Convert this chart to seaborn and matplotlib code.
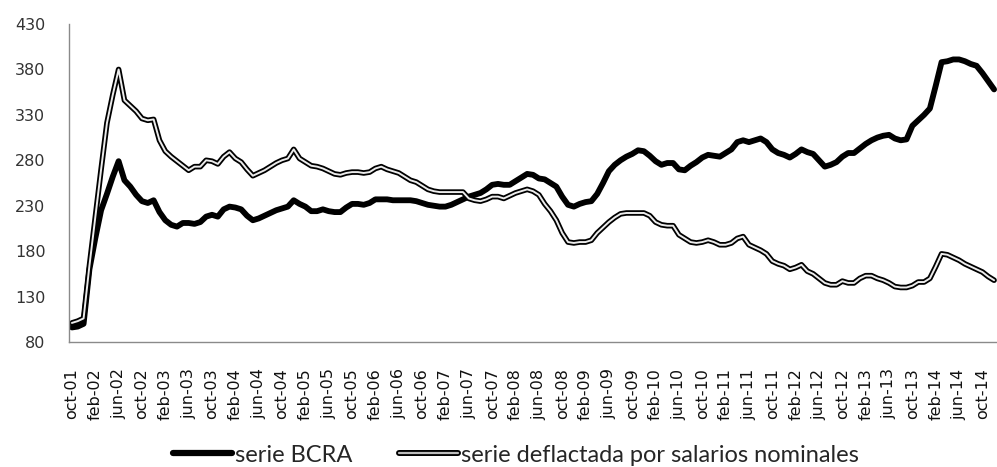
import numpy as np
import pandas as pd
import matplotlib
matplotlib.use("Agg")
import matplotlib.pyplot as plt
import seaborn as sns
from matplotlib.lines import Line2D
from matplotlib.legend_handler import HandlerTuple

# ---- data (monthly, oct-01 .. dec-14) ----
bcra = [96, 97, 100, 160, 194, 225, 243, 262, 279, 258,
        251, 242, 235, 233, 236, 223, 214, 209, 207, 211,
        211, 210, 212, 218, 220, 218, 226, 229, 228, 226,
        219, 214, 216, 219, 222, 225, 227, 229, 236, 232,
        229, 224, 224, 226, 224, 223, 223, 228, 232, 232,
        231, 233, 237, 237, 237, 236, 236, 236, 236, 235,
        233, 231, 230, 229, 229, 231, 234, 237, 240, 242,
        244, 248, 253, 254, 253, 253, 257, 261, 265, 264,
        260, 259, 255, 251, 240, 231, 229, 232, 234, 235,
        243, 255, 268, 275, 280, 284, 287, 291, 290, 285,
        279, 275, 277, 277, 270, 269, 274, 278, 283, 286,
        285, 284, 288, 292, 300, 302, 300, 302, 304, 300,
        292, 288, 286, 283, 287, 292, 289, 287, 280, 273,
        275, 278, 284, 288, 288, 293, 298, 302, 305, 307,
        308, 304, 302, 303, 318, 324, 330, 337, 362, 388,
        389, 391, 391, 389, 386, 384, 376, 367, 358]

deflactada = [101, 103, 106, 164, 217, 270, 321, 352, 380, 346,
              340, 334, 326, 324, 325, 302, 290, 284, 279, 274,
              269, 273, 273, 280, 279, 276, 284, 289, 282, 278,
              270, 263, 266, 269, 273, 277, 280, 282, 292, 282,
              278, 274, 273, 271, 268, 265, 264, 266, 267, 267,
              266, 267, 271, 273, 270, 268, 266, 262, 258, 256,
              252, 248, 246, 245, 245, 245, 245, 245, 238, 236,
              235, 237, 240, 240, 238, 241, 244, 246, 248, 246,
              242, 232, 224, 214, 200, 190, 189, 190, 190, 192,
              200, 206, 212, 217, 221, 222, 222, 222, 222, 219,
              212, 209, 208, 208, 198, 194, 190, 189, 190, 192,
              190, 187, 187, 189, 194, 196, 187, 184, 181, 177,
              169, 166, 164, 160, 162, 165, 158, 155, 150, 145,
              143, 143, 147, 145, 145, 150, 153, 153, 150, 148,
              145, 141, 140, 140, 142, 146, 146, 150, 163, 177,
              176, 173, 170, 166, 163, 160, 157, 152, 148]

mes_abrev = ['ene', 'feb', 'mar', 'abr', 'may', 'jun',
             'jul', 'ago', 'sep', 'oct', 'nov', 'dic']
n = len(bcra)
meses = [f"{mes_abrev[(9 + k) % 12]}-{((2001 * 12 + 9 + k) // 12) % 100:02d}"
         for k in range(n)]
y_ticks = [80, 130, 180, 230, 280, 330, 380, 430]
series_names = ["serie BCRA", "serie deflactada por salarios nominales"]

df = pd.DataFrame({"x": np.arange(n), "bcra": bcra, "defl": deflactada})

# ---- figure ----
sns.set_theme(style="white")
plt.rcParams["font.family"] = ["DejaVu Sans"]

W, H = 997, 467
fig = plt.figure(figsize=(W / 100, H / 100), dpi=100)
ax = fig.add_axes([69 / W, 1 - 342 / H, 928 / W, 318 / H])

sns.lineplot(data=df, x="x", y="bcra", color="black", lw=4.2, ax=ax,
             solid_joinstyle="round", solid_capstyle="round")
sns.lineplot(data=df, x="x", y="defl", color="black", lw=4.0, ax=ax,
             solid_joinstyle="round", solid_capstyle="round")
sns.lineplot(data=df, x="x", y="defl", color="#ececec", lw=1.4, ax=ax,
             solid_joinstyle="round")

ax.set_xlim(-0.5, n - 0.5)
ax.set_ylim(80, 430)
ax.set_yticks(y_ticks)
ax.set_yticklabels([str(v) for v in y_ticks], fontsize=11.5, color="#333333")
ax.set_xticks(range(0, n, 4))
ax.set_xticklabels(meses[::4], rotation=90, fontsize=11.5, color="#111111")
ax.set_xlabel("")
ax.set_ylabel("")
ax.tick_params(axis="both", length=0)
ax.tick_params(axis="y", pad=17)
ax.tick_params(axis="x", pad=19)

for s in ["top", "right"]:
    ax.spines[s].set_visible(False)
for s in ["left", "bottom"]:
    ax.spines[s].set_color("#8a8a8a")
    ax.spines[s].set_linewidth(1.0)

h1 = Line2D([], [], color="black", lw=4.5)
h2 = (Line2D([], [], color="black", lw=4.3),
      Line2D([], [], color="#bdbdbd", lw=1.6))
fig.legend([h1, h2], series_names, loc="center",
           bbox_to_anchor=(516 / W, 1 - 455 / H), ncol=2, frameon=False,
           handler_map={tuple: HandlerTuple(ndivide=1)},
           handlelength=2.5, handletextpad=0.1, columnspacing=2.0,
           prop={"family": "Lato", "size": 17})

fig.savefig("out.png", dpi=100)
